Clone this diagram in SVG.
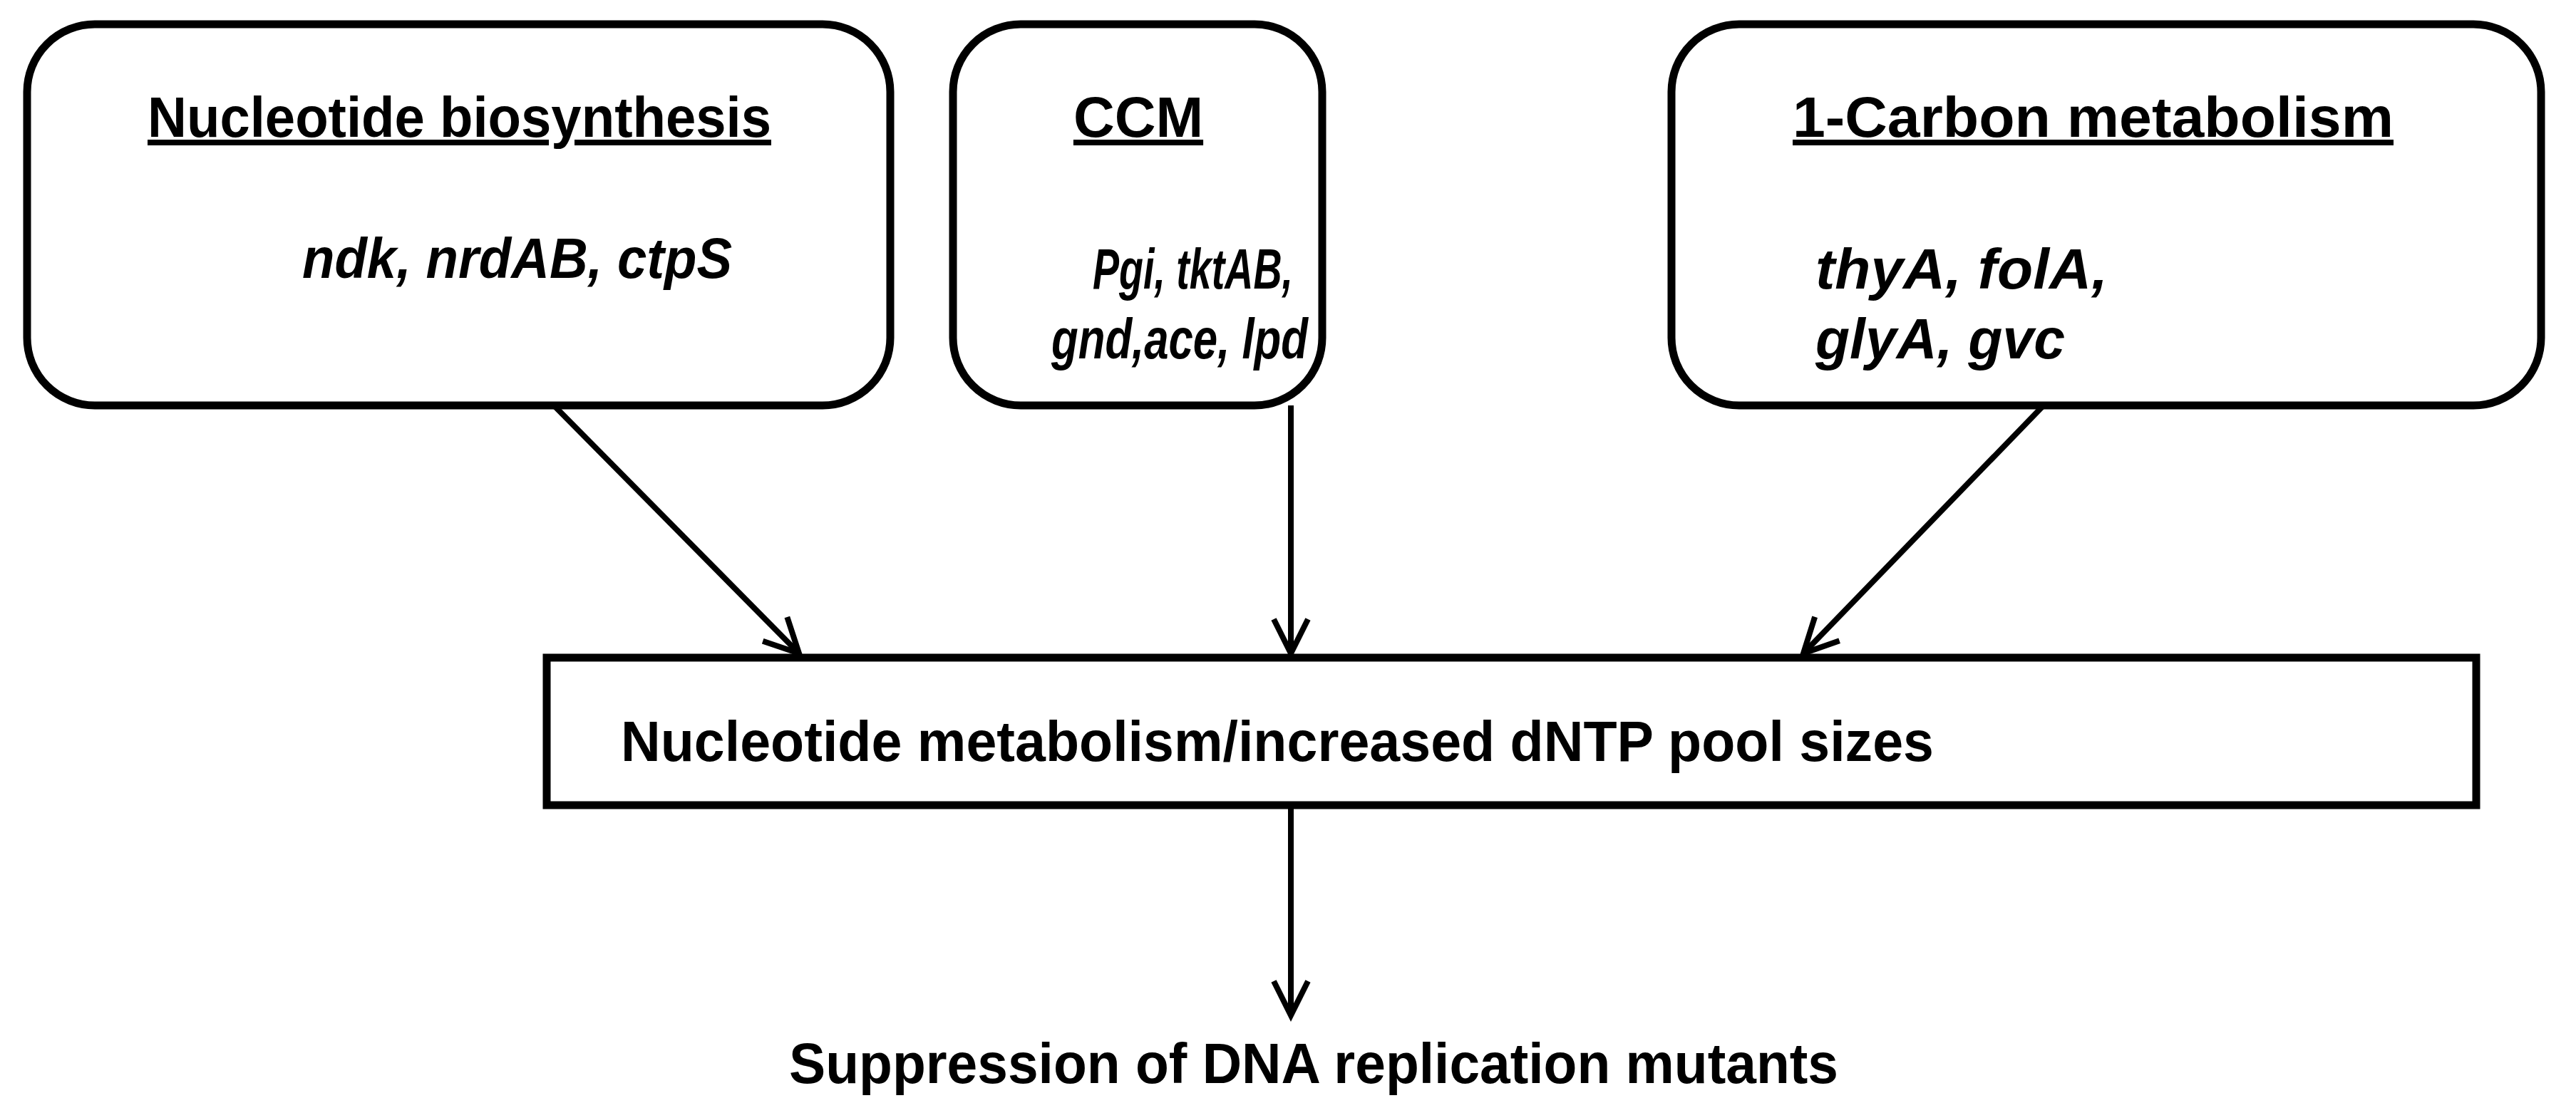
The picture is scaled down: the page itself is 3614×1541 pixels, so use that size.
<svg xmlns="http://www.w3.org/2000/svg" width="3614" height="1541" viewBox="0 0 3614 1541">
<style>
.box{fill:#fff;stroke:#000;stroke-width:11}
.t{font-family:"Liberation Sans",Arial,sans-serif;font-weight:bold;font-size:80px;fill:#000}
.i{font-style:italic}
.u{text-decoration:underline}
.c{stroke:#000;stroke-width:8;fill:none}
</style>
<defs>
<marker id="a" markerUnits="userSpaceOnUse" markerWidth="60" markerHeight="80" refX="50" refY="30" orient="auto" viewBox="0 0 60 60">
<path d="M2,6 L50,30 L2,54" fill="none" stroke="#000" stroke-width="8"/>
</marker>
</defs>
<g id="n1"><rect class="box" x="38" y="34" width="1211" height="535" rx="95"/>
<text class="t u" x="207" y="192" textLength="875" lengthAdjust="spacingAndGlyphs">Nucleotide biosynthesis</text>
<text class="t i" x="424" y="390" textLength="603" lengthAdjust="spacingAndGlyphs">ndk, nrdAB, ctpS</text></g>
<g id="n2"><rect class="box" x="1337" y="34" width="518" height="535" rx="95"/>
<text class="t u" x="1597" y="192" text-anchor="middle">CCM</text>
<text class="t i" x="1533" y="405" textLength="281" lengthAdjust="spacingAndGlyphs">Pgi, tktAB,</text>
<text class="t i" x="1475" y="503" textLength="360" lengthAdjust="spacingAndGlyphs">gnd,ace, lpd</text></g>
<g id="n3"><rect class="box" x="2345" y="34" width="1220" height="535" rx="95"/>
<text class="t u" x="2515" y="192" textLength="843" lengthAdjust="spacingAndGlyphs">1-Carbon metabolism</text>
<text class="t i" x="2547" y="405" textLength="410" lengthAdjust="spacingAndGlyphs">thyA, folA,</text>
<text class="t i" x="2547" y="503" textLength="350" lengthAdjust="spacingAndGlyphs">glyA, gvc</text></g>
<g id="n4"><rect class="box" x="767" y="923" width="2707" height="207"/>
<text class="t" x="871" y="1068" textLength="1842" lengthAdjust="spacingAndGlyphs">Nucleotide metabolism/increased dNTP pool sizes</text></g>
<g id="n5"><text class="t" x="1107" y="1520" textLength="1472" lengthAdjust="spacingAndGlyphs">Suppression of DNA replication mutants</text></g>
<g id="connectors">
<line class="c" x1="777" y1="569" x2="1121" y2="917" marker-end="url(#a)"/>
<line class="c" x1="1811" y1="569" x2="1811" y2="917" marker-end="url(#a)"/>
<line class="c" x1="2867" y1="569" x2="2530" y2="917" marker-end="url(#a)"/>
<line class="c" x1="1811" y1="1130" x2="1811" y2="1425" marker-end="url(#a)"/>
</g>
</svg>
